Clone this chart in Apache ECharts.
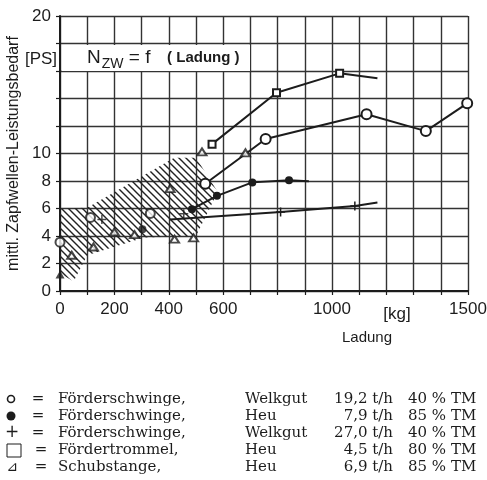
<!DOCTYPE html>
<html lang="de">
<head>
<meta charset="UTF-8">
<title>Zapfwellen-Leistungsbedarf</title>
<script src="https://cdn.jsdelivr.net/npm/echarts@6/dist/echarts.min.js"></script>
<style>
  html, body { margin: 0; padding: 0; background: #fff; }
  #chart { width: 487px; height: 480px; }
</style>
</head>
<body>
<div id="chart"></div>
<script>
// Achsen
var xShownLabels = [0, 200, 400, 600, 1000, 1500];
var yShownLabels = [0, 2, 4, 6, 8, 10, 20];

// Förderschwinge, Welkgut 19,2 t/h (offene Kreise)
var circleLine = [[534, 7.8], [756, 11.05], [1127, 12.85], [1345, 11.63], [1497, 13.65]];
var circleSingle = [[0, 3.55], [112, 5.35], [332, 5.64]];
// Förderschwinge, Heu 7,9 t/h (volle Kreise), letzter Punkt = Linienende
var dotLine = [[485, 5.95], [577, 6.92], [707, 7.9], [842, 8.06], [915, 7.99]];
var dotSingle = [[303, 4.49]];
// Förderschwinge, Welkgut 27,0 t/h (+), erster und letzter Punkt ohne Zeichen
var plusLine = [[405, 5.2], [811, 5.75], [1084, 6.19], [1167, 6.44]];
var plusSingle = [[154, 5.2], [455, 5.62]];
// Fördertrommel, Heu 4,5 t/h (Quadrate), letzter Punkt = Linienende
var squareLine = [[559, 10.68], [796, 14.42], [1028, 15.83], [1167, 15.47]];
// Schubstange, Heu 6,9 t/h (Dreiecke)
var triangles = [[43, 2.6], [123, 3.2], [200, 4.3], [274, 4.1], [405, 7.45], [421, 3.77],
                 [491, 3.86], [522, 10.12], [682, 10.05]];
var triangleFilled = [[0, 1.2]];
// schraffierter Streubereich
var hatchBand = [[0, 6.0], [100, 6.05], [420, 9.7], [500, 9.7], [580, 7.2], [500, 4.0],
                 [310, 3.9], [100, 2.6], [50, 0.7], [0, 1.3]];

// Legende
var legendNames = ['Förderschwinge,', 'Förderschwinge,', 'Förderschwinge,', 'Fördertrommel,', 'Schubstange,'];
var legendGoods = ['Welkgut', 'Heu', 'Welkgut', 'Heu', 'Heu'];
var legendRates = ['19,2 t/h', '7,9 t/h', '27,0 t/h', '4,5 t/h', '6,9 t/h'];
var legendTM = ['40 % TM', '85 % TM', '40 % TM', '80 % TM', '85 % TM'];

var ink = '#1c1c1c';

// Schraffur-Muster
var hatchCanvas = document.createElement('canvas');
hatchCanvas.width = 7;
hatchCanvas.height = 7;
var hc = hatchCanvas.getContext('2d');
hc.strokeStyle = '#222';
hc.lineWidth = 1.4;
hc.beginPath();
hc.moveTo(-1, -1); hc.lineTo(8, 8);
hc.moveTo(-1, 6); hc.lineTo(1, 8);
hc.moveTo(6, -1); hc.lineTo(8, 1);
hc.stroke();

function endNoSymbol(arr, noFirst) {
    return arr.map(function (p, i) {
        var item = { value: p };
        if (i === arr.length - 1 || (noFirst && i === 0)) item.symbol = 'none';
        return item;
    });
}

var plusPath = 'path://M5,0 L5,10 M0,5 L10,5';

var chart = echarts.init(document.getElementById('chart'));

var graphics = [
    { type: 'rect', shape: { x: 62, y: 45, width: 188, height: 26 }, style: { fill: '#fff' }, z: 100 },
    {
        type: 'text', x: 87, y: 58, z: 101,
        style: {
            text: '{n|N}{s|ZW}{n| = f}{l|    ( Ladung )}',
            verticalAlign: 'middle',
            fill: ink,
            rich: {
                n: { fontSize: 19, fontFamily: 'Liberation Sans', fill: ink },
                s: { fontSize: 14, fontFamily: 'Liberation Sans', fill: ink, padding: [12, 0, 0, 1] },
                l: { fontSize: 15, fontFamily: 'Liberation Sans', fontWeight: 'bold', fill: ink }
            }
        }
    },
    { type: 'text', x: 41, y: 59, z: 101, style: { text: '[PS]', fontSize: 17, fontFamily: 'Liberation Sans', fill: ink, align: 'center', verticalAlign: 'middle' } },
    { type: 'text', x: 397, y: 314, style: { text: '[kg]', fontSize: 17, fontFamily: 'Liberation Sans', fill: ink, align: 'center', verticalAlign: 'middle' } },
    { type: 'text', x: 367, y: 338, style: { text: 'Ladung', fontSize: 15, fontFamily: 'Liberation Sans', fill: ink, align: 'center', verticalAlign: 'middle' } }
];

// Legendenzeichen
var rowY = [399, 416, 433, 450, 467];
graphics.push({ type: 'circle', shape: { cx: 11, cy: rowY[0], r: 3.5 }, style: { fill: '#fff', stroke: ink, lineWidth: 1.6 } });
graphics.push({ type: 'circle', shape: { cx: 11, cy: rowY[1], r: 4.5 }, style: { fill: ink } });
graphics.push({ type: 'text', x: 12, y: rowY[2], style: { text: '+', fontSize: 17, fontFamily: 'DejaVu Sans', fill: ink, align: 'center', verticalAlign: 'middle' } });
graphics.push({ type: 'rect', shape: { x: 7, y: rowY[3] - 6, width: 14, height: 13 }, style: { fill: 'none', stroke: ink, lineWidth: 1 } });
graphics.push({ type: 'text', x: 12, y: rowY[4], style: { text: '⊿', fontSize: 14, fontFamily: 'DejaVu Sans', fill: ink, align: 'center', verticalAlign: 'middle' } });

var serif = { fontSize: 15, fontFamily: 'DejaVu Serif', fill: ink, verticalAlign: 'middle' };
for (var i = 0; i < legendNames.length; i++) {
    graphics.push({ type: 'text', x: i < 3 ? 38 : 41, y: rowY[i], style: Object.assign({ text: '=', align: 'center' }, serif) });
    graphics.push({ type: 'text', x: 58, y: rowY[i], style: Object.assign({ text: legendNames[i], align: 'left' }, serif) });
    graphics.push({ type: 'text', x: 245, y: rowY[i], style: Object.assign({ text: legendGoods[i], align: 'left' }, serif) });
    graphics.push({ type: 'text', x: 393, y: rowY[i], style: Object.assign({ text: legendRates[i], align: 'right' }, serif) });
    graphics.push({ type: 'text', x: 408, y: rowY[i], style: Object.assign({ text: legendTM[i], align: 'left' }, serif) });
}

var option = {
    animation: false,
    backgroundColor: '#fff',
    grid: { left: 60, right: 19, top: 16, bottom: 189, containLabel: false, outerBoundsMode: 'none' },
    xAxis: {
        type: 'value', min: 0, max: 1500, interval: 100,
        axisLine: { show: true, onZero: false, lineStyle: { color: ink, width: 2 } },
        axisTick: { show: true, length: 4, lineStyle: { color: ink, width: 1.2 } },
        splitLine: { show: true, lineStyle: { color: '#333', width: 1.4 } },
        axisLabel: {
            margin: 10, fontSize: 17, fontFamily: 'Liberation Sans', color: ink,
            formatter: function (v) { return xShownLabels.indexOf(v) >= 0 ? String(v) : ''; }
        }
    },
    yAxis: {
        type: 'value', min: 0, max: 20, interval: 2,
        name: 'mittl. Zapfwellen-Leistungsbedarf',
        nameLocation: 'middle', nameRotate: 90, nameGap: 38,
        nameTextStyle: { fontSize: 16, fontFamily: 'Liberation Sans', color: ink },
        axisLine: { show: true, onZero: false, lineStyle: { color: ink, width: 2 } },
        axisTick: { show: true, length: 4, lineStyle: { color: ink, width: 1.2 } },
        splitLine: { show: true, lineStyle: { color: '#333', width: 1.4 } },
        axisLabel: {
            margin: 9, fontSize: 17, fontFamily: 'Liberation Sans', color: ink,
            formatter: function (v) { return yShownLabels.indexOf(v) >= 0 ? String(v) : ''; }
        }
    },
    graphic: graphics,
    series: [
        {
            type: 'custom', z: 1, silent: true,
            data: hatchBand,
            renderItem: function (params, api) {
                if (params.dataIndex !== 0) return null;
                var pts = hatchBand.map(function (p) { return api.coord(p); });
                return {
                    type: 'polygon',
                    shape: { points: pts },
                    style: { fill: { image: hatchCanvas, repeat: 'repeat' }, stroke: null }
                };
            }
        },
        {
            type: 'line', data: endNoSymbol(squareLine), z: 5,
            symbol: 'emptyRect', symbolSize: 7,
            lineStyle: { color: ink, width: 2 },
            itemStyle: { color: ink, borderColor: ink, borderWidth: 1.4 }
        },
        {
            type: 'line', data: circleLine, z: 5,
            symbol: 'emptyCircle', symbolSize: 10,
            lineStyle: { color: ink, width: 2 },
            itemStyle: { color: ink, borderColor: ink, borderWidth: 1.5 }
        },
        {
            type: 'scatter', data: circleSingle, z: 5,
            symbol: 'emptyCircle', symbolSize: 9,
            itemStyle: { color: ink, borderColor: ink, borderWidth: 1.5 }
        },
        {
            type: 'line', data: endNoSymbol(dotLine), z: 5,
            symbol: 'circle', symbolSize: 8,
            lineStyle: { color: ink, width: 2 },
            itemStyle: { color: ink }
        },
        {
            type: 'scatter', data: dotSingle, z: 5,
            symbol: 'circle', symbolSize: 8,
            itemStyle: { color: ink }
        },
        {
            type: 'line', data: endNoSymbol(plusLine, true), z: 5,
            symbol: plusPath, symbolSize: 9,
            lineStyle: { color: ink, width: 2 },
            itemStyle: { color: 'none', borderColor: ink, borderWidth: 1.5 }
        },
        {
            type: 'scatter', data: plusSingle, z: 5,
            symbol: plusPath, symbolSize: 9,
            itemStyle: { color: 'none', borderColor: ink, borderWidth: 1.5 }
        },
        {
            type: 'scatter', data: triangles, z: 5,
            symbol: 'emptyTriangle', symbolSize: [9, 7],
            itemStyle: { color: ink, borderColor: ink, borderWidth: 1.3 }
        },
        {
            type: 'scatter', data: triangleFilled, z: 5,
            symbol: 'triangle', symbolSize: [9, 8],
            itemStyle: { color: ink }
        }
    ]
};
chart.setOption(option);
</script>
</body>
</html>
